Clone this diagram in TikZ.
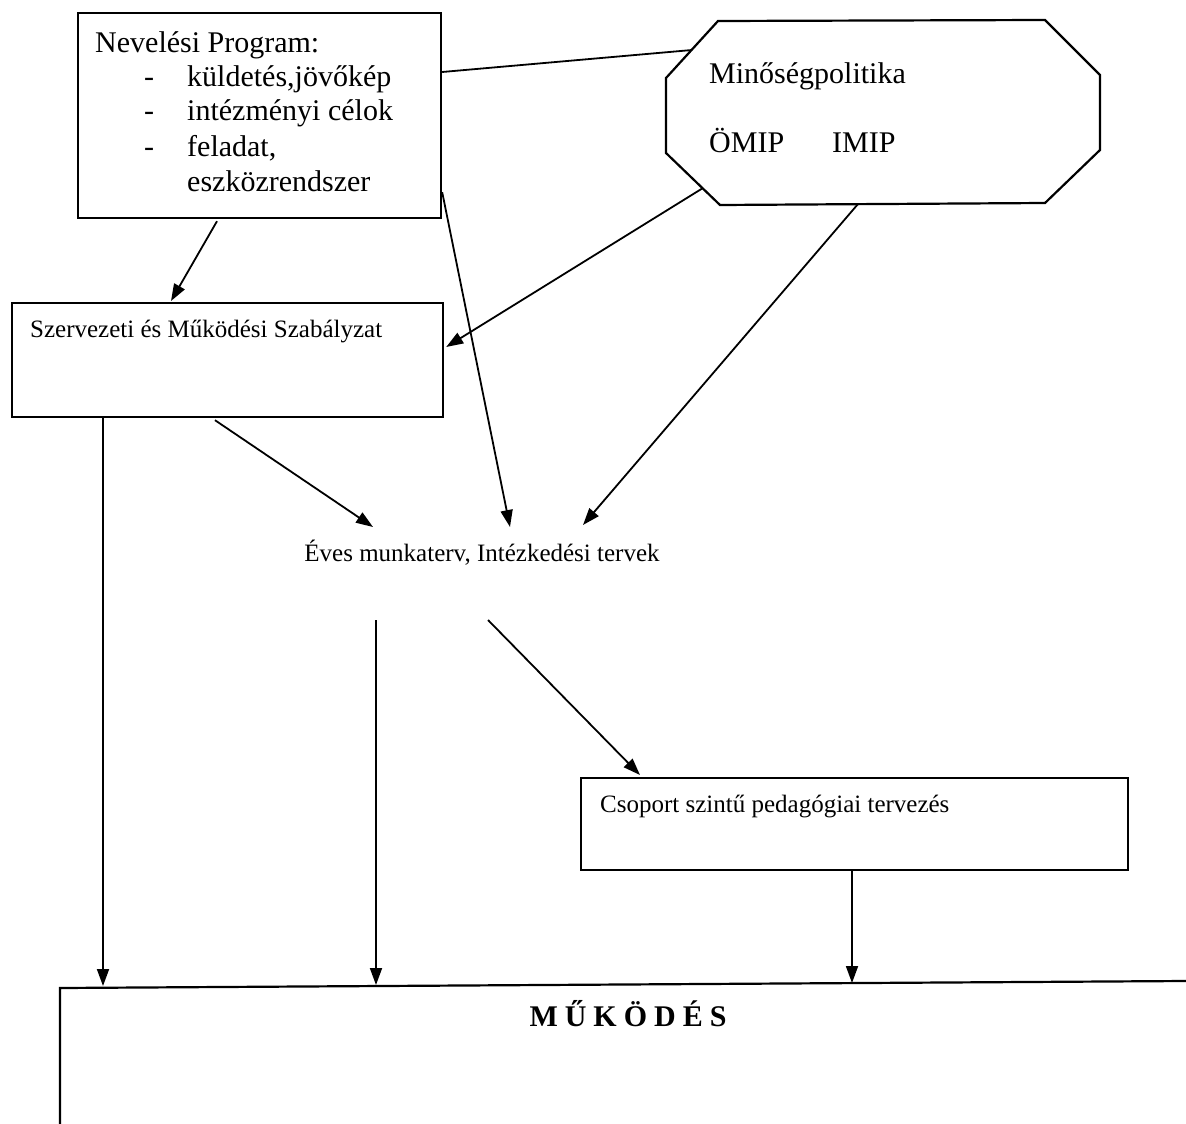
\documentclass[tikz,border=0pt]{standalone}
\usepackage{fontspec}
\setmainfont{Liberation Serif}
\usetikzlibrary{arrows.meta,calc}
\tikzset{
  box/.style={draw, line width=2.2pt, anchor=north west, inner sep=0pt},
  conn/.style={line width=1.8pt},
  arr/.style={conn, -{Triangle[length=17pt,width=12pt]}},
  big/.style={font=\fontsize{30}{34.5}\selectfont, inner sep=0pt},
  small/.style={font=\fontsize{25}{29}\selectfont, inner sep=0pt},
}
\begin{document}
\begin{tikzpicture}[x=1pt,y=-1pt]
\useasboundingbox (0,0) rectangle (1186,1124);

% Nevelesi Program box
\node[box, minimum width=363pt, minimum height=205pt] (np) at (77,12) {};
\node[big, anchor=base west] (nptitle) at (95,53) {Nevelési Program:};
\node[big, anchor=base] (d1) at (149,86) {-};
\node[big, anchor=base] (d2) at (149,120) {-};
\node[big, anchor=base] (d3) at (149,156) {-};
\node[big, anchor=base west] (i1) at (187,86) {küldetés,jövőkép};
\node[big, anchor=base west] (i2) at (187,120) {intézményi célok};
\node[big, anchor=base west] (i3) at (187,156) {feladat,};
\node[big, anchor=base west] (i4) at (187,191) {eszközrendszer};

% Minosegpolitika octagon
\draw[line width=2.2pt] (718,21) -- (1045,20) -- (1100,75) -- (1100,150)
  -- (1045,203) -- (720,205) -- (666,153) -- (666,78) -- cycle;
\coordinate (octa) at (692,50);
\coordinate (octb) at (703,188);
\coordinate (octc) at (858,204);
\node[big, anchor=base west] (mp) at (709,83) {Minőségpolitika};
\node[big, anchor=base west] (omip) at (709,152) {ÖMIP};
\node[big, anchor=base west] (imip) at (832,152) {IMIP};

% SZMSZ box
\node[box, minimum width=431pt, minimum height=114pt] (szmsz) at (11,302) {};
\node[small, anchor=base west] (szmsztxt) at (30,337) {Szervezeti és Működési Szabályzat};

% Eves munkaterv
\node[small] (eves) at (482,553) {Éves munkaterv, Intézkedési tervek};
\coordinate (eva) at (373,527);
\coordinate (evb) at (510,527);
\coordinate (evc) at (583,525);
\coordinate (evd) at (376,620);
\coordinate (eve) at (488,620);

% Csoport box
\node[box, minimum width=547pt, minimum height=92pt] (cs) at (580,777) {};
\node[small, anchor=base west] (cstxt) at (600,812) {Csoport szintű pedagógiai tervezés};

% Mukodes box (open)
\draw[line width=2.2pt] (60,1124) -- (60,988) -- (1186,981);
\coordinate (mka) at (103,986);
\coordinate (mkb) at (376,985);
\coordinate (mkc) at (852,983);
\node[font=\fontsize{30}{33}\selectfont\bfseries, inner sep=0pt] (mk) at (628,1014)
  {M\kern7pt Ű\kern7pt K\kern7pt Ö\kern7pt D\kern7pt É\kern7pt S};

% connectors
\draw[conn] (np.east |- 0,72) -- (octa);
\draw[arr] ($(np.south west)+(140,2)$) -- ($(szmsz.north west)+(160,-1)$);
\draw[arr] ($(np.south east)+(0,-27)$) -- (evb);
\draw[arr] (octb) -- ($(szmsz.north east)+(2,45)$);
\draw[arr] (octc) -- (evc);
\draw[arr] ($(szmsz.south west)+(204,2)$) -- (eva);
\draw[arr] ($(szmsz.south west)+(92,0)$) -- (mka);
\draw[arr] (evd) -- (mkb);
\draw[arr] (eve) -- ($(cs.north west)+(60,-2)$);
\draw[arr] ($(cs.south west)+(272,0)$) -- (mkc);
\end{tikzpicture}
\end{document}
